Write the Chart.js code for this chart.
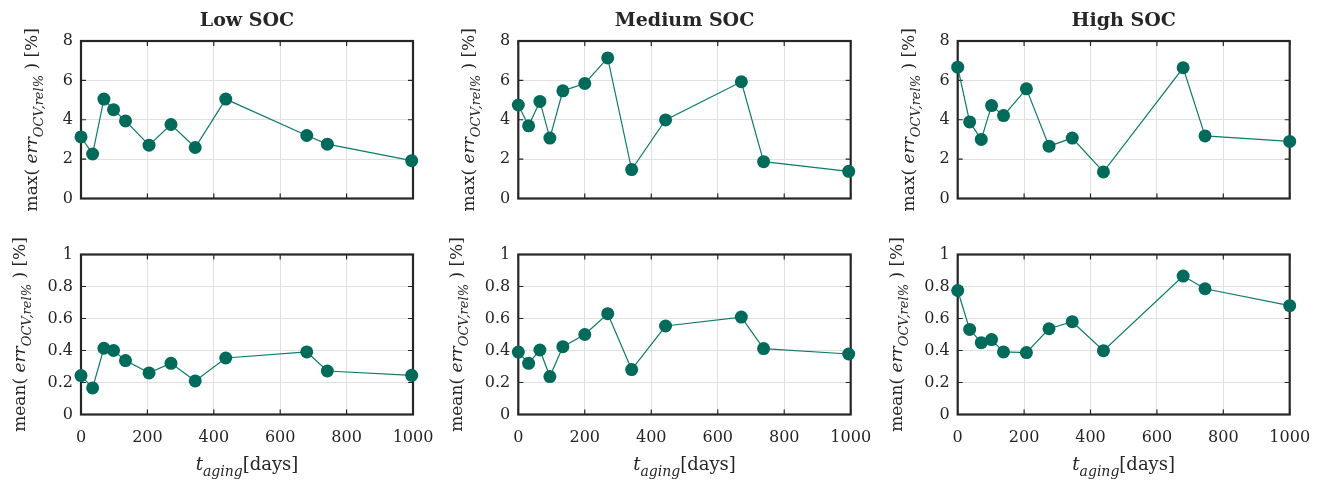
<!DOCTYPE html>
<html>
<head>
<meta charset="utf-8">
<script src="https://cdn.jsdelivr.net/npm/chart.js@4.4.1/dist/chart.umd.min.js"></script>
<style>
  body { margin: 0; background: #fff; width: 1327px; height: 488px; position: relative; overflow: hidden; }
  canvas { position: absolute; }
</style>
</head>
<body>
<canvas id="p00"></canvas><canvas id="p01"></canvas><canvas id="p02"></canvas>
<canvas id="p10"></canvas><canvas id="p11"></canvas><canvas id="p12"></canvas>
<script>
// values
const socTitles = ['Low SOC', 'Medium SOC', 'High SOC'];
const dayTicks = [0, 200, 400, 600, 800, 1000];
const maxTicks = [0, 2, 4, 6, 8];
const meanTicks = [0, 0.2, 0.4, 0.6, 0.8, 1];

const lowDays = [0, 35, 69, 98, 134, 205, 271, 344, 436, 680, 742, 996];
const lowMax = [3.13, 2.26, 5.05, 4.51, 3.94, 2.71, 3.76, 2.59, 5.05, 3.20, 2.76, 1.92];
const lowMean = [0.243, 0.166, 0.414, 0.400, 0.337, 0.260, 0.320, 0.210, 0.353, 0.391, 0.272, 0.245];

const medDays = [0, 31, 65, 95, 134, 200, 269, 341, 443, 671, 738, 994];
const medMax = [4.75, 3.69, 4.93, 3.07, 5.47, 5.84, 7.14, 1.47, 3.99, 5.93, 1.87, 1.38];
const medMean = [0.390, 0.320, 0.403, 0.237, 0.424, 0.500, 0.630, 0.281, 0.553, 0.609, 0.412, 0.378];

const highDays = [0, 36, 71, 102, 138, 207, 275, 345, 439, 679, 745, 1000];
const highMax = [6.67, 3.89, 3.00, 4.72, 4.21, 5.57, 2.66, 3.07, 1.35, 6.64, 3.18, 2.90];
const highMean = [0.775, 0.532, 0.449, 0.468, 0.391, 0.387, 0.536, 0.580, 0.399, 0.865, 0.786, 0.680];

// layout of the 2x3 grid (page pixels)
const colLeft = [0, 440, 880];
const colWidth = [440, 440, 447];
const plotLeft = [81, 518.3, 957.7];
const plotRight = [413, 850.7, 1289.7];
const rowTop = [0, 222];
const rowHeight = [222, 266];
const plotTop = [41, 254.5];
const plotBottom = [198.5, 414.5];

const FONT = '"DejaVu Serif", "Liberation Serif", serif';
const textColor = '#262626';
const axisColor = '#262626';
const gridColor = '#e0e0e0';
const lineColor = '#0e7b6a';
const markerColor = '#006b5a';

function fontOf(p) {
  return (p.bold ? 'bold ' : '') + (p.italic ? 'italic ' : '') + p.size + 'px ' + FONT;
}

// draws a line of text made of parts (with subscripts), centred on cx, baseline at cy
function drawRich(ctx, parts, cx, cy, rotate) {
  ctx.save();
  ctx.translate(cx, cy);
  if (rotate) ctx.rotate(-Math.PI / 2);
  const widths = parts.map(p => { ctx.font = fontOf(p); return ctx.measureText(p.t).width; });
  const total = widths.reduce((s, w) => s + w, 0);
  let x = -total / 2;
  ctx.textAlign = 'left';
  ctx.textBaseline = 'alphabetic';
  ctx.fillStyle = textColor;
  parts.forEach((p, i) => {
    ctx.font = fontOf(p);
    ctx.fillText(p.t, x, p.shift || 0);
    x += widths[i];
  });
  ctx.restore();
}

function yLabelParts(fn) {
  return [
    { t: fn + '( ', size: 17 },
    { t: 'err', size: 17, italic: true },
    { t: 'OCV,rel%', size: 13, italic: true, shift: 6 },
    { t: ' ) [%]', size: 17 }
  ];
}
const xLabelParts = [
  { t: 't', size: 18, italic: true },
  { t: 'aging', size: 14, italic: true, shift: 6 },
  { t: '[days]', size: 18 }
];

const framePlugin = {
  id: 'frame',
  beforeDatasetsDraw(chart) {
    const { ctx, chartArea: a, scales: { x, y } } = chart;
    const len = 5;
    ctx.save();
    ctx.strokeStyle = axisColor;
    ctx.lineWidth = 1.2;
    ctx.beginPath();
    x.ticks.forEach(t => {
      const px = x.getPixelForValue(t.value);
      ctx.moveTo(px, a.bottom); ctx.lineTo(px, a.bottom - len);
      ctx.moveTo(px, a.top); ctx.lineTo(px, a.top + len);
    });
    y.ticks.forEach(t => {
      const py = y.getPixelForValue(t.value);
      ctx.moveTo(a.left, py); ctx.lineTo(a.left + len, py);
      ctx.moveTo(a.right, py); ctx.lineTo(a.right - len, py);
    });
    ctx.stroke();
    ctx.lineWidth = 2.2;
    ctx.strokeRect(a.left, a.top, a.right - a.left, a.bottom - a.top);
    ctx.restore();
  }
};

function makeTextPlugin(row, col) {
  const yParts = yLabelParts(row === 0 ? 'max' : 'mean');
  const yOffset = row === 0 ? 44 : 56;
  return {
    id: 'panelText',
    afterDraw(chart) {
      const { ctx, chartArea: a } = chart;
      const cx = (a.left + a.right) / 2;
      if (row === 0) {
        drawRich(ctx, [{ t: socTitles[col], size: 19, bold: true }], cx, 26, false);
      }
      drawRich(ctx, yParts, a.left - yOffset, (a.top + a.bottom) / 2, true);
      if (row === 1) {
        drawRich(ctx, xLabelParts, cx, 248, false);
      }
    }
  };
}

function makePanel(row, col, days, vals, ticks) {
  const cv = document.getElementById('p' + row + col);
  const L = colLeft[col], T = rowTop[row], W = colWidth[col], H = rowHeight[row];
  cv.width = W; cv.height = H;
  cv.style.left = L + 'px'; cv.style.top = T + 'px';
  cv.style.width = W + 'px'; cv.style.height = H + 'px';
  const area = {
    left: plotLeft[col] - L, right: plotRight[col] - L,
    top: plotTop[row] - T, bottom: plotBottom[row] - T
  };
  const tickFont = { family: FONT, size: 16 };

  new Chart(cv, {
    type: 'line',
    data: {
      datasets: [{
        data: days.map((d, i) => ({ x: d, y: vals[i] })),
        borderColor: lineColor,
        borderWidth: 1.2,
        pointRadius: 6.5,
        pointBackgroundColor: markerColor,
        pointBorderColor: markerColor,
        pointBorderWidth: 0,
        tension: 0,
        clip: false
      }]
    },
    options: {
      responsive: false,
      animation: false,
      devicePixelRatio: 1,
      layout: { padding: { left: 0, top: area.top, right: W - area.right, bottom: 0 } },
      plugins: {
        legend: { display: false },
        tooltip: { enabled: false }
      },
      scales: {
        x: {
          type: 'linear',
          min: 0,
          max: 1000,
          afterBuildTicks: s => { s.ticks = dayTicks.map(v => ({ value: v })); },
          afterFit: s => {
            s.height = H - area.bottom;
            s.paddingLeft = 0; s.paddingRight = 0;
          },
          grid: { color: gridColor, lineWidth: 1, drawTicks: false },
          border: { display: false },
          ticks: { display: row === 1, padding: 14, maxRotation: 0, font: tickFont, color: textColor, callback: v => String(v) }
        },
        y: {
          type: 'linear',
          min: 0,
          max: ticks[ticks.length - 1],
          afterBuildTicks: s => { s.ticks = ticks.map(v => ({ value: v })); },
          afterFit: s => {
            s.width = area.left;
            s.paddingTop = 0; s.paddingBottom = 0;
          },
          grid: { color: gridColor, lineWidth: 1, drawTicks: false },
          border: { display: false },
          ticks: { padding: 8, font: tickFont, color: textColor, callback: v => String(v) }
        }
      }
    },
    plugins: [framePlugin, makeTextPlugin(row, col)]
  });
}

makePanel(0, 0, lowDays, lowMax, maxTicks);
makePanel(0, 1, medDays, medMax, maxTicks);
makePanel(0, 2, highDays, highMax, maxTicks);
makePanel(1, 0, lowDays, lowMean, meanTicks);
makePanel(1, 1, medDays, medMean, meanTicks);
makePanel(1, 2, highDays, highMean, meanTicks);
</script>
</body>
</html>
